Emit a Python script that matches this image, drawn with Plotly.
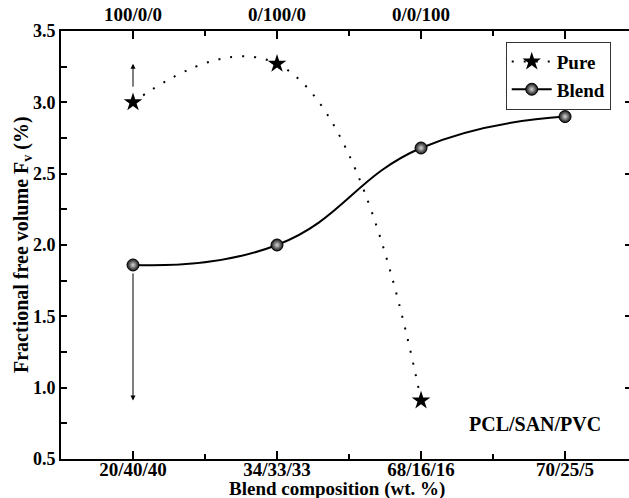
import plotly.graph_objects as go

categories = ["20/40/40", "34/33/33", "68/16/16", "70/25/5"]
top_labels = ["100/0/0", "0/100/0", "0/0/100", ""]
x_pos = [1, 2, 3, 4]

pure_x = [1, 2, 3]
pure_y = [3.00, 3.27, 0.91]

blend_x = [1, 2, 3, 4]
blend_y = [1.86, 2.00, 2.68, 2.90]

y_ticks = [0.5, 1.0, 1.5, 2.0, 2.5, 3.0, 3.5]
y_minor = [0.75, 1.25, 1.75, 2.25, 2.75, 3.25]
x_minor = [1.5, 2.5, 3.5]

# arrows: (x, start y, end y)
arrows = [(1, 3.05, 3.27), (1, 1.86, 0.91)]

FONT = "Liberation Serif"
BLACK = "#000000"

fig = go.Figure()

for ax_x, y0, y1 in arrows:
    fig.add_annotation(x=ax_x, y=y1, ax=ax_x, ay=y0, xref="x", yref="y",
                       axref="x", ayref="y", showarrow=True, arrowhead=2,
                       arrowsize=1, arrowwidth=1, arrowcolor=BLACK, text=" ")

fig.add_trace(go.Scatter(
    x=pure_x, y=pure_y, name="Pure", mode="lines+markers",
    line=dict(color=BLACK, width=2, dash="2px,10px", shape="spline", smoothing=1.3),
    marker=dict(symbol="star", size=14, color=BLACK),
))
fig.add_trace(go.Scatter(
    x=blend_x, y=blend_y, name="Blend", mode="lines+markers",
    line=dict(color=BLACK, width=2, shape="spline", smoothing=1.3),
    marker=dict(symbol="circle", size=12, color="#111111",
                gradient=dict(type="radial", color="#d8d8d8"),
                line=dict(color=BLACK, width=1)),
))
# invisible trace for top / right axes
fig.add_trace(go.Scatter(x=[x_pos[0]], y=[pure_y[0]], xaxis="x2", yaxis="y2",
                         mode="markers", marker=dict(opacity=0), showlegend=False,
                         hoverinfo="skip"))

fig.add_annotation(x=0.835, y=0.082, xref="paper", yref="paper",
                   xanchor="center", yanchor="middle",
                   text="<b>PCL/SAN/PVC</b>", showarrow=False,
                   font=dict(family=FONT, size=20, color=BLACK))

# axis titles
fig.add_annotation(x=0.486, y=0, xref="paper", yref="paper",
                   xanchor="center", yanchor="middle", yshift=-30,
                   text="<b>Blend composition (wt. %)</b>", showarrow=False,
                   font=dict(family=FONT, size=19, color=BLACK))
fig.add_annotation(x=0, y=0.5, xref="paper", yref="paper",
                   xanchor="center", yanchor="middle", xshift=-39, textangle=-90,
                   text="<b>Fractional free volume F<sub>v</sub> (%)</b>", showarrow=False,
                   font=dict(family=FONT, size=20, color=BLACK))

xr = [0.5, 4.444]
yr = [0.5, 3.5]
xtickfont = dict(family=FONT, size=19, color=BLACK, weight="bold")
ytickfont = dict(family=FONT, size=18, color=BLACK, weight="bold")

fig.update_layout(
    width=629, height=498,
    margin=dict(l=61, r=0, t=31, b=39),
    plot_bgcolor="white", paper_bgcolor="white",
    font=dict(family=FONT, color=BLACK),
    showlegend=True,
    legend=dict(x=0.783, y=0.975, xanchor="left", yanchor="top",
                bgcolor="white", bordercolor="#333333", borderwidth=1,
                font=dict(family=FONT, size=19, color=BLACK, weight="bold"),
                tracegroupgap=0, itemwidth=40),
    xaxis=dict(range=xr, tickmode="array", tickvals=x_pos, ticktext=categories,
               ticks="inside", ticklen=8, tickwidth=1.5, tickcolor=BLACK,
               showline=True, linecolor=BLACK, linewidth=2, showgrid=False,
               zeroline=False, tickfont=xtickfont, ticklabelstandoff=-8,
               minor=dict(tickmode="array", tickvals=x_minor, ticks="inside",
                          ticklen=5, tickwidth=1.5, tickcolor=BLACK, showgrid=False)),
    xaxis2=dict(range=xr, overlaying="x", side="top", anchor="y",
                tickmode="array", tickvals=x_pos, ticktext=top_labels,
                ticks="inside", ticklen=8, tickwidth=1.5, tickcolor=BLACK,
                showline=True, linecolor=BLACK, linewidth=2, showgrid=False,
                zeroline=False, tickfont=xtickfont,
                minor=dict(tickmode="array", tickvals=x_minor, ticks="inside",
                           ticklen=5, tickwidth=1.5, tickcolor=BLACK, showgrid=False)),
    yaxis=dict(range=yr, tickmode="array", tickvals=y_ticks,
               ticktext=[f"{v:.1f}" for v in y_ticks],
               ticks="inside", ticklen=6, tickwidth=1.5, tickcolor=BLACK,
               showline=True, linecolor=BLACK, linewidth=2, showgrid=False,
               zeroline=False, tickfont=ytickfont,
               minor=dict(tickmode="array", tickvals=y_minor,
                          ticks="inside", ticklen=6, tickwidth=1.5, tickcolor=BLACK,
                          showgrid=False)),
    yaxis2=dict(range=yr, overlaying="y", side="right", anchor="x",
                tickmode="array", tickvals=y_ticks,
                ticks="inside", ticklen=4, tickwidth=2, tickcolor=BLACK,
                showticklabels=False, showline=False, showgrid=False, zeroline=False),
)

fig.write_html("out.html")
